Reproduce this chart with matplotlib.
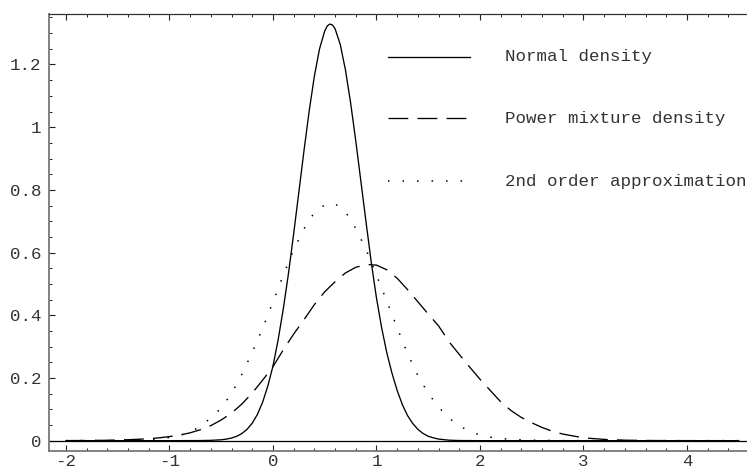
import matplotlib
matplotlib.use("Agg")
import matplotlib.pyplot as plt
from matplotlib.ticker import MultipleLocator, FixedLocator

# ---------------- data ----------------
normal_x = [-2.0, -1.5, -1.0, -0.7, -0.6, -0.5, -0.45, -0.4, -0.35, -0.3, -0.25, -0.2,
            -0.15, -0.1, -0.05, 0.0, 0.05, 0.1, 0.15, 0.2, 0.25, 0.3, 0.35, 0.4,
            0.45, 0.5, 0.525, 0.55, 0.575, 0.6, 0.65, 0.7, 0.75, 0.8, 0.85, 0.9, 0.95, 1.0,
            1.05, 1.1, 1.15, 1.2, 1.25, 1.3, 1.35, 1.4, 1.45, 1.5, 1.55, 1.6,
            1.7, 1.8, 2.0, 2.5, 3.0, 3.5, 4.0, 4.5]
normal_y = [0.0, 0.0, 0.0, 0.0003, 0.001, 0.0028, 0.0049, 0.0084, 0.014, 0.0229, 0.0363, 0.056,
            0.084, 0.1227, 0.174, 0.238, 0.322, 0.421, 0.534, 0.660, 0.793, 0.926, 1.052, 1.163,
            1.250, 1.307, 1.323, 1.329, 1.326, 1.314, 1.264, 1.183, 1.078, 0.956, 0.826, 0.695, 0.568, 0.455,
            0.360, 0.280, 0.215, 0.160, 0.115, 0.080, 0.055, 0.036, 0.023, 0.014, 0.009, 0.005,
            0.0015, 0.0004, 0.0, 0.0, 0.0, 0.0, 0.0, 0.0]

mixture_x = [-2.0, -1.8, -1.6, -1.4, -1.2, -1.1, -1.0, -0.9, -0.8, -0.7, -0.6, -0.5,
             -0.4, -0.3, -0.2, -0.1, 0.0, 0.1, 0.2, 0.3, 0.4, 0.5, 0.6, 0.7,
             0.8, 0.9, 1.0, 1.1, 1.2, 1.3, 1.4, 1.5, 1.6, 1.7, 1.8, 1.9,
             2.0, 2.1, 2.2, 2.3, 2.4, 2.5, 2.6, 2.7, 2.8, 2.9, 3.0, 3.2,
             3.4, 3.6, 3.8, 4.0, 4.5]
mixture_y = [0.0002, 0.0005, 0.0012, 0.003, 0.006, 0.009, 0.013, 0.018, 0.025, 0.035, 0.048, 0.066,
             0.088, 0.117, 0.152, 0.193, 0.236, 0.290, 0.340, 0.386, 0.434, 0.475, 0.507, 0.535,
             0.553, 0.562, 0.560, 0.545, 0.518, 0.482, 0.443, 0.404, 0.366, 0.316, 0.275, 0.235,
             0.196, 0.160, 0.124, 0.096, 0.074, 0.057, 0.042, 0.030, 0.021, 0.015, 0.009, 0.004,
             0.0015, 0.0005, 0.0002, 0.0001, 0.0]

approx_x = [-2.0, -1.5, -1.2, -1.1, -1.0, -0.9, -0.8, -0.7, -0.6, -0.5, -0.4, -0.3,
            -0.2, -0.1, 0.0, 0.1, 0.2, 0.3, 0.4, 0.5, 0.6, 0.7, 0.8, 0.9,
            1.0, 1.1, 1.2, 1.3, 1.4, 1.5, 1.6, 1.7, 1.8, 1.9, 2.0, 2.1,
            2.2, 2.3, 2.5, 2.8, 3.0, 3.5, 4.0, 4.5]
approx_y = [0.0, 0.0005, 0.003, 0.006, 0.010, 0.017, 0.027, 0.046, 0.073, 0.104, 0.151, 0.212,
            0.282, 0.358, 0.443, 0.528, 0.609, 0.676, 0.728, 0.752, 0.756, 0.730, 0.677, 0.609,
            0.528, 0.445, 0.360, 0.278, 0.208, 0.151, 0.107, 0.072, 0.047, 0.030, 0.018, 0.011,
            0.007, 0.004, 0.0015, 0.0003, 0.0001, 0.0, 0.0, 0.0]

series_labels = ["Normal density", "Power mixture density", "2nd order approximation"]

x_major_ticks = [-2, -1, 0, 1, 2, 3, 4]
x_tick_labels = ["-2", "-1", "0", "1", "2", "3", "4"]
y_major_ticks = [0, 0.2, 0.4, 0.6, 0.8, 1.0, 1.2]
y_tick_labels = ["0", "0.2", "0.4", "0.6", "0.8", "1", "1.2"]

# ---------------- styling ----------------
FONT = ["Liberation Mono", "DejaVu Sans Mono"]
FS = 12.6
styles = [
    dict(color="black", lw=0.95, linestyle="-"),
    dict(color="black", lw=0.95, linestyle=(0, (15, 7))),
    dict(color="black", lw=1.1, linestyle=(0, (1.0, 8.5))),
]

fig = plt.figure(figsize=(7.47, 4.72), dpi=100)
ax = fig.add_axes([0.0656, 0.0445, 1.0 - 0.0656, 0.9703 - 0.0445])

series = [(normal_x, normal_y), (mixture_x, mixture_y), (approx_x, approx_y)]
for (xs, ys), st in zip(series, styles):
    ax.plot(xs, ys, **st)

ax.axhline(0, color="black", lw=0.9)

ax.set_xlim(-2.164, 4.58)
ax.set_ylim(-0.033, 1.361)

ax.xaxis.set_major_locator(FixedLocator(x_major_ticks))
ax.set_xticklabels(x_tick_labels)
ax.xaxis.set_minor_locator(MultipleLocator(0.2))
ax.yaxis.set_major_locator(FixedLocator(y_major_ticks))
ax.set_yticklabels(y_tick_labels)
ax.yaxis.set_minor_locator(MultipleLocator(0.05))

ax.tick_params(which="both", direction="in", top=True, right=False,
               colors="#222222", labelcolor="#333333")
ax.tick_params(which="major", length=4.0, width=0.8, labelsize=FS)
ax.tick_params(axis="y", which="major", pad=5.5)
ax.tick_params(axis="x", which="major", pad=2.0)
ax.tick_params(which="minor", length=2.2, width=0.7)
for lab in ax.get_xticklabels() + ax.get_yticklabels():
    lab.set_family(FONT)

ax.spines["right"].set_visible(False)
ax.spines["left"].set_color("#777777")
ax.spines["left"].set_linewidth(1.3)
ax.spines["bottom"].set_color("#777777")
ax.spines["bottom"].set_linewidth(1.3)
ax.spines["top"].set_color("#333333")
ax.spines["top"].set_linewidth(0.9)

# legend (drawn as in the original: handle line then text)
leg_rows_y = [1.225, 1.029, 0.828]
for label, st, yy in zip(series_labels, styles, leg_rows_y):
    ax.plot([1.111, 1.903], [yy, yy], **st)
    ax.text(2.242, yy, label, family=FONT, fontsize=FS, color="#333333",
            va="center", ha="left", clip_on=False)

fig.savefig("out.png", dpi=100)
